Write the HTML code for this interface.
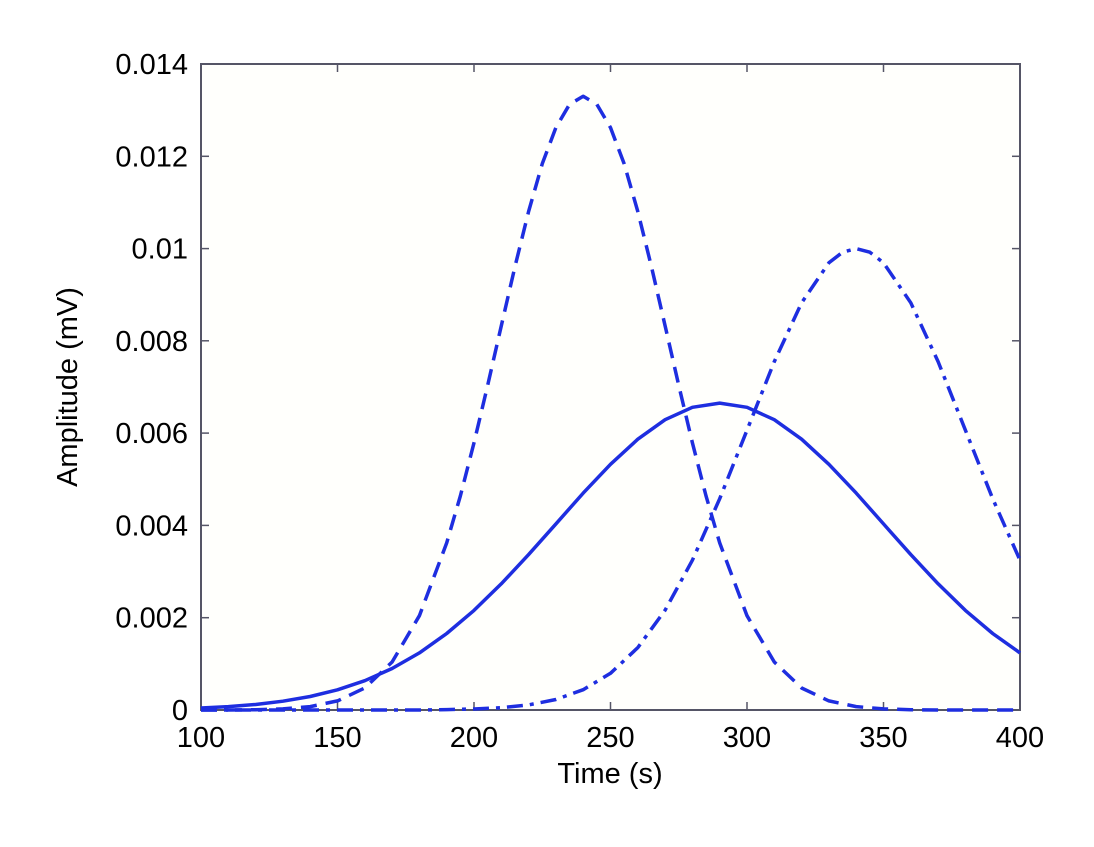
<!DOCTYPE html>
<html><head><meta charset="utf-8"><style>
body{margin:0;background:#fff}
text{font-family:"Liberation Sans",Arial,sans-serif;font-size:29px;fill:#000}
</style></head><body>
<svg width="1094" height="842" xmlns="http://www.w3.org/2000/svg">
<rect x="201" y="64" width="819" height="646" fill="#fffffc" stroke="#556" stroke-width="2"/>
<g stroke="#556" stroke-width="1.5">
<line x1="337.5" y1="710" x2="337.5" y2="702"/><line x1="337.5" y1="64" x2="337.5" y2="72"/>
<line x1="474" y1="710" x2="474" y2="702"/><line x1="474" y1="64" x2="474" y2="72"/>
<line x1="610.5" y1="710" x2="610.5" y2="702"/><line x1="610.5" y1="64" x2="610.5" y2="72"/>
<line x1="747" y1="710" x2="747" y2="702"/><line x1="747" y1="64" x2="747" y2="72"/>
<line x1="883.5" y1="710" x2="883.5" y2="702"/><line x1="883.5" y1="64" x2="883.5" y2="72"/>
<line x1="201" y1="617.7" x2="209" y2="617.7"/><line x1="1020" y1="617.7" x2="1012" y2="617.7"/>
<line x1="201" y1="525.4" x2="209" y2="525.4"/><line x1="1020" y1="525.4" x2="1012" y2="525.4"/>
<line x1="201" y1="433.1" x2="209" y2="433.1"/><line x1="1020" y1="433.1" x2="1012" y2="433.1"/>
<line x1="201" y1="340.8" x2="209" y2="340.8"/><line x1="1020" y1="340.8" x2="1012" y2="340.8"/>
<line x1="201" y1="248.6" x2="209" y2="248.6"/><line x1="1020" y1="248.6" x2="1012" y2="248.6"/>
<line x1="201" y1="156.3" x2="209" y2="156.3"/><line x1="1020" y1="156.3" x2="1012" y2="156.3"/>
</g>
<g text-anchor="middle">
<text x="201" y="747">100</text><text x="337.5" y="747">150</text><text x="474" y="747">200</text>
<text x="610.5" y="747">250</text><text x="747" y="747">300</text><text x="883.5" y="747">350</text><text x="1020" y="747">400</text>
</g>
<g text-anchor="end">
<text x="188" y="720">0</text><text x="188" y="627.7">0.002</text><text x="188" y="535.4">0.004</text>
<text x="188" y="443.1">0.006</text><text x="188" y="350.8">0.008</text><text x="188" y="258.6">0.01</text>
<text x="188" y="166.3">0.012</text><text x="188" y="74">0.014</text>
</g>
<g fill="none" stroke="#1e2ee0" stroke-width="3.5" stroke-linejoin="round">
<polyline points="201,708 228.3,706.6 255.6,704.5 282.9,701.2 310.2,696.5 337.5,689.8 364.8,680.7 392.1,668.5 419.4,652.9 446.7,633.5 474,610.4 501.3,583.8 528.6,554.6 555.9,523.9 583.2,493.1 610.5,464.3 637.8,439.2 665.1,419.7 692.4,407.3 719.7,403.1 747,407.3 774.3,419.7 801.6,439.2 828.9,464.3 856.2,493.1 883.5,523.9 910.8,554.6 938.1,583.8 965.4,610.4 992.7,633.5 1020,652.9"/>
<polyline stroke-dasharray="16,9" points="201,710 228.3,710 255.6,709.7 282.9,708.9 310.2,706.6 337.5,700.9 364.8,688 392.1,662 419.4,615.7 446.7,542.9 460.35,496 474,442.8 487.65,385.4 501.3,325.8 514.95,266.7 528.6,211.5 542.25,163.8 555.9,127.6 569.55,104.3 583.2,96.3 596.85,104.3 610.5,127.6 624.15,163.8 637.8,211.5 651.45,266.7 665.1,325.8 678.75,385.4 692.4,442.8 706.05,496 719.7,542.9 747,615.7 774.3,662 801.6,688 828.9,700.9 856.2,706.6 883.5,708.9 910.8,709.7 938.1,710 1020,710"/>
<polyline stroke-dasharray="16,7,4,7" points="201,710 419.4,710 446.7,709.6 474,709 501.3,707.7 528.6,704.9 555.9,699.5 583.2,689.7 610.5,673.3 637.8,647.6 665.1,610.2 692.4,560.2 719.7,498.7 747,430.2 774.3,361.6 801.6,302.8 828.9,262.8 842.55,252.2 856.2,248.6 869.85,252.2 883.5,262.8 910.8,302.8 938.1,361.6 965.4,430.2 992.7,498.7 1020,560.2"/>
</g>
<text x="610" y="783" text-anchor="middle">Time (s)</text>
<text transform="translate(77,387) rotate(-90)" text-anchor="middle">Amplitude (mV)</text>
</svg>
</body></html>
